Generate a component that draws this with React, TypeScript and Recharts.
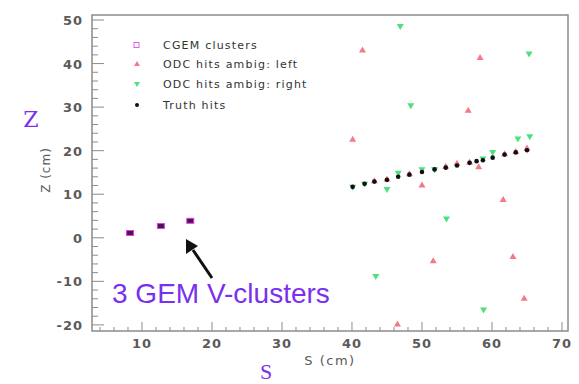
import { ScatterChart, Scatter, XAxis, YAxis, ReferenceArea } from 'recharts'

// truth hits along the track
const truthS = [40.1, 41.8, 43.2, 45.0, 46.6, 48.2, 50.0, 51.8, 53.4, 55.0, 56.8, 57.8, 58.7, 60.1, 61.8, 63.4, 65.0]
const truthZ = [11.7, 12.4, 12.9, 13.3, 14.0, 14.5, 15.1, 15.7, 16.1, 16.6, 17.2, 17.6, 17.8, 18.4, 19.1, 19.6, 20.1]

// ODC hits, left ambiguity
const leftS = [41.5, 58.3, 56.6, 40.1, 50.0, 58.1, 61.6, 51.6, 63.0, 64.6, 46.5, 65.0, 43.2, 45.0, 48.2, 53.4, 55.0, 56.8, 61.8, 63.4]
const leftZ = [43.1, 41.4, 29.3, 22.6, 12.1, 16.3, 8.8, -5.3, -4.3, -13.9, -19.8, 20.6, 13.1, 13.5, 14.7, 16.4, 17.1, 17.4, 19.3, 19.8]

// ODC hits, right ambiguity
const rightS = [46.9, 65.3, 48.4, 63.7, 65.4, 60.1, 45.0, 53.5, 43.4, 58.8, 40.1, 41.8, 46.6, 50.0, 51.8, 58.7]
const rightZ = [48.5, 42.2, 30.3, 22.7, 23.2, 19.6, 11.1, 4.3, -8.9, -16.6, 11.6, 12.3, 14.8, 15.6, 15.6, 18.1]

// CGEM clusters
const cgemS = [8.3, 12.7, 16.9]
const cgemZ = [1.1, 2.7, 3.9]

const xTicks = [4, 6, 8, 10, 12, 14, 16, 18, 20, 22, 24, 26, 28, 30, 32, 34, 36, 38, 40, 42, 44, 46, 48, 50, 52, 54, 56, 58, 60, 62, 64, 66, 68, 70]
const yTicks = [-20, -18, -16, -14, -12, -10, -8, -6, -4, -2, 0, 2, 4, 6, 8, 10, 12, 14, 16, 18, 20, 22, 24, 26, 28, 30, 32, 34, 36, 38, 40, 42, 44, 46, 48, 50]

const zip = (s: number[], z: number[]) => s.map((v, i) => ({ s: v, z: z[i] }))
const truth = zip(truthS, truthZ)
const left = zip(leftS, leftZ)
const right = zip(rightS, rightZ)
const cgem = zip(cgemS, cgemZ)

const RED = '#f47a8a'
const GREEN = '#4de07c'
const PURPLE = '#7a30ee'
const AXIS = '#8c8c8c'
const LABEL = '#5a5a5a'
const FONT = '"Liberation Sans", Arial, sans-serif'
const WIDE = '"DejaVu Sans", sans-serif'

const UpTri = (p: any) => (
  <polygon points={`${p.cx},${p.cy - 3.5} ${p.cx - 3.5},${p.cy + 2.5} ${p.cx + 3.5},${p.cy + 2.5}`} fill={RED} />
)
const DownTri = (p: any) => (
  <polygon points={`${p.cx - 3.5},${p.cy - 2.5} ${p.cx + 3.5},${p.cy - 2.5} ${p.cx},${p.cy + 3.5}`} fill={GREEN} />
)
const Dot = (p: any) => <circle cx={p.cx} cy={p.cy} r={2.3} fill="#111" />
const Square = (p: any) => (
  <rect x={p.cx - 3.5} y={p.cy - 2.5} width={7} height={5} fill="#4a1450" stroke="#e040e0" strokeWidth={1} />
)

const YTick = (p: any) => {
  const major = p.payload.value % 10 === 0
  const x0 = p.x + 8
  return (
    <g>
      <line x1={x0} x2={x0 + (major ? 12 : 6)} y1={p.y} y2={p.y} stroke={AXIS} />
      {major && (
        <text x={p.x - 1} y={p.y} dy={5} textAnchor="end" fontFamily={WIDE} fontWeight="bold" fontSize={13} letterSpacing={1} fill={LABEL}>
          {p.payload.value}
        </text>
      )}
    </g>
  )
}

const XTick = (p: any) => {
  const major = p.payload.value % 10 === 0
  const y0 = p.y - 8
  return (
    <g>
      <line x1={p.x} x2={p.x} y1={y0} y2={y0 - (major ? 9 : 4)} stroke={AXIS} />
      {major && (
        <text x={p.x} y={p.y} dy={9} textAnchor="middle" fontFamily={WIDE} fontWeight="bold" fontSize={13} letterSpacing={1} fill={LABEL}>
          {p.payload.value}
        </text>
      )}
    </g>
  )
}

const legendItems = [
  { name: 'CGEM clusters', y: 45, shape: 'square' },
  { name: 'ODC hits ambig: left', y: 64, shape: 'up' },
  { name: 'ODC hits ambig: right', y: 84, shape: 'down' },
  { name: 'Truth hits', y: 105, shape: 'dot' },
]

export default function App() {
  return (
    <div style={{ position: 'absolute', left: 0, top: 0, width: 579, height: 384, background: '#fff' }}>
      <ScatterChart width={579} height={384} margin={{ top: 15, right: 11, bottom: 23, left: 32 }}>
        <XAxis
          type="number"
          dataKey="s"
          domain={[2.86, 70.86]}
          ticks={xTicks}
          allowDataOverflow
          axisLine={false}
          tickLine={false}
          tick={<XTick />}
          height={30}
          interval={0}
        />
        <YAxis
          type="number"
          dataKey="z"
          domain={[-21.4, 51.15]}
          ticks={yTicks}
          allowDataOverflow
          axisLine={false}
          tickLine={false}
          tick={<YTick />}
          width={60}
          interval={0}
        />
        <ReferenceArea x1={2.86} x2={70.86} y1={-21.4} y2={51.15} fill="none" stroke={AXIS} strokeWidth={1.5} />
        <Scatter data={right} shape={DownTri} isAnimationActive={false} />
        <Scatter data={left} shape={UpTri} isAnimationActive={false} />
        <Scatter data={truth} shape={Dot} isAnimationActive={false} />
        <Scatter data={cgem} shape={Square} isAnimationActive={false} />
      </ScatterChart>
      <svg width={579} height={384} style={{ position: 'absolute', left: 0, top: 0, pointerEvents: 'none' }}>
        {legendItems.map((it) => (
          <g key={it.name}>
            {it.shape === 'square' && <rect x={134} y={it.y - 2.5} width={5} height={5} fill="none" stroke="#e060f0" />}
            {it.shape === 'up' && <polygon points={`137,${it.y - 3} 134,${it.y + 2} 140,${it.y + 2}`} fill={RED} />}
            {it.shape === 'down' && <polygon points={`134,${it.y - 2} 140,${it.y - 2} 137,${it.y + 3}`} fill={GREEN} />}
            {it.shape === 'dot' && <circle cx={137} cy={it.y} r={2} fill="#111" />}
            <text x={163} y={it.y + 4} fontFamily={WIDE} fontSize={11} letterSpacing={1.2} fill="#333">
              {it.name}
            </text>
          </g>
        ))}
        <text x={46} y={170} transform="rotate(-90 46 170)" textAnchor="middle" dy={4} fontFamily={WIDE} fontSize={12} letterSpacing={1} fill={LABEL}>
          Z (cm)
        </text>
        <text x={330} y={365} textAnchor="middle" fontFamily={WIDE} fontSize={13} letterSpacing={1.5} fill={LABEL}>
          S (cm)
        </text>
        <text x={31} y={127} textAnchor="middle" fontFamily="'DejaVu Serif', serif" fontSize={22} fill={PURPLE}>
          Z
        </text>
        <text x={266} y={379} textAnchor="middle" fontFamily="'Liberation Serif', serif" fontSize={22} fill={PURPLE}>
          S
        </text>
        <text x={112} y={303} fontFamily={FONT} fontSize={28} fill={PURPLE}>
          3 GEM V-clusters
        </text>
        <line x1={212} y1={278} x2={193} y2={250} stroke="#111" strokeWidth={3} />
        <polygon points="186,239 186,254 198,246" fill="#111" />
      </svg>
    </div>
  )
}
